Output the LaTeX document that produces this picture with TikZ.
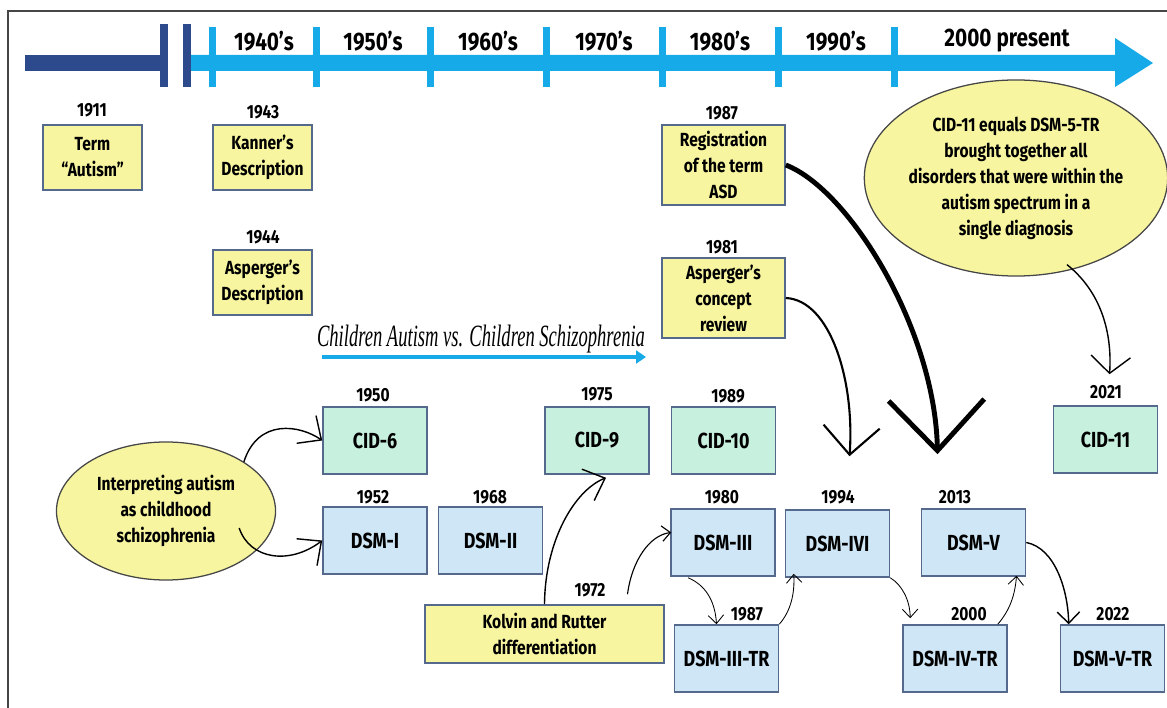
\documentclass[tikz,border=0pt]{standalone}
\usepackage{fontspec}
\setmainfont{Fira Sans}[FakeStretch=0.82]
\newfontfamily\handfont{Liberation Serif}[FakeStretch=0.6]
\usetikzlibrary{shapes.geometric,arrows.meta,calc}
\definecolor{barlight}{RGB}{22,170,232}
\definecolor{bardark}{RGB}{45,75,140}
\definecolor{noteyellow}{RGB}{247,245,160}
\definecolor{cidgreen}{RGB}{200,240,222}
\definecolor{dsmblue}{RGB}{206,230,245}
\definecolor{edgeblue}{RGB}{85,105,140}
\definecolor{framegray}{RGB}{70,70,70}
\tikzset{
	txt/.style={font=\fontsize{13.5}{18.5}\selectfont\bfseries, align=center, inner sep=0pt},
	yearlab/.style={txt},
	decade/.style={font=\fontsize{18}{20}\selectfont\bfseries, inner sep=0pt},
	note/.style={txt, draw=edgeblue, line width=1.1pt, fill=noteyellow, minimum width=2.475cm, minimum height=1.625cm},
	bignote/.style={note, minimum width=3.075cm, minimum height=2cm},
	cidbox/.style={txt, font=\fontsize{15.5}{18}\selectfont\bfseries, draw=edgeblue, line width=1.1pt, fill=cidgreen, minimum width=2.6cm, minimum height=1.675cm},
	dsmbox/.style={cidbox, fill=dsmblue},
	bubble/.style={txt, ellipse, draw=framegray, line width=0.9pt, fill=noteyellow},
	link/.style={line width=0.6pt, -{Straight Barb[length=6pt,width=11pt]}},
	swoop/.style={line width=1pt, -{Straight Barb[length=13pt,width=24pt]}},
}
\begin{document}
\begin{tikzpicture}[x=0.025cm, y=-0.025cm]
	\useasboundingbox (0,0) rectangle (1167,708);
	\draw[framegray, line width=1pt] (8,708) -- (8,11) -- (1167,11);
	% timeline
	\draw[bardark, line width=11pt] (25,63) -- (164,63);
	\foreach \x in {164,187}
		\draw[bardark, line width=5.5pt] (\x,24) -- (\x,87);
	\fill[barlight] (191,55) -- (1115,55) -- (1115,38) -- (1153,63) -- (1115,87) -- (1115,71) -- (191,71) -- cycle;
	\foreach \x in {212,316,430,546,662,778,894}
		\fill[barlight] (\x-3.5,27) rectangle (\x+3.5,87);
	\foreach \x/\t [count=\i] in {264/1940’s,373/1950’s,488/1960’s,604/1970’s,720/1980’s,836/1990’s,1007/2000 present}
		\node[decade] (dec\i) at (\x,41) {\t};

	% early descriptions
	\node[yearlab] (y1911) at (92,110) {1911};
	\node[note] (term) at (92.5,157.5) {Term\\“Autism”};
	\node[yearlab] (y1943) at (263,112) {1943};
	\node[note] (kanner) at (262.5,157.5) {Kanner’s\\Description};
	\node[yearlab] (y1944) at (263,237) {1944};
	\node[note] (asperger) at (262.5,282.5) {Asperger’s\\Description};
	\node[yearlab] (y1987a) at (722,113) {1987};
	\node[bignote] (regist) at (723.5,165) {Registration\\of the term\\ASD};
	\node[yearlab] (y1981) at (722,247) {1981};
	\node[bignote] (review) at (723.5,298) {Asperger’s\\concept\\review};
	\node[bubble, minimum width=7.4cm, minimum height=4.9cm] (equals) at (1016,178)
		{CID-11 equals DSM-5-TR\\brought together all\\disorders that were within the\\autism spectrum in a\\single diagnosis};

	% children autism vs schizophrenia
	\node[font=\handfont\itshape\fontsize{22}{23}\selectfont, inner sep=0pt] (versus) at (481,339) {Children Autism vs. Children Schizophrenia};
	\coordinate (vsa) at (322,357);
	\coordinate (vsb) at (646,357);
	\draw[barlight, line width=2.6pt, -{Triangle[length=7pt,width=9pt]}] (vsa) -- (vsb);

	% classifications
	\node[bubble, minimum width=5.475cm, minimum height=3.45cm] (interp) at (166,511)
		{Interpreting autism\\as childhood\\schizophrenia};
	\node[yearlab] (y1950) at (373,395) {1950};
	\node[cidbox] (cid6) at (375,440.5) {CID-6};
	\node[yearlab] (y1952) at (373,497) {1952};
	\node[dsmbox] (dsm1) at (375,540.5) {DSM-I};
	\node[yearlab] (y1968) at (490,497) {1968};
	\node[dsmbox] (dsm2) at (490.5,540.5) {DSM-II};
	\node[yearlab] (y1975) at (597,394) {1975};
	\node[cidbox] (cid9) at (597,440.5) {CID-9};
	\node[yearlab] (y1989) at (728,396) {1989};
	\node[cidbox] (cid10) at (723.5,440.5) {CID-10};
	\node[yearlab] (y2021) at (1106,392) {2021};
	\node[cidbox] (cid11) at (1105.5,439.5) {CID-11};
	\node[yearlab] (y1980) at (722,497) {1980};
	\node[dsmbox] (dsm3) at (723,542.5) {DSM-III};
	\node[yearlab] (y1994) at (838,497) {1994};
	\node[dsmbox] (dsm4) at (837.5,543.5) {DSM-IVI};
	\node[yearlab] (y2013) at (955,497) {2013};
	\node[dsmbox] (dsm5) at (973.5,542.5) {DSM-V};
	\node[yearlab] (y1987b) at (747,614) {1987};
	\node[dsmbox] (dsm3tr) at (726.5,658.5) {DSM-III-TR};
	\node[yearlab] (y2000) at (969,614) {2000};
	\node[dsmbox] (dsm4tr) at (955,658.5) {DSM-IV-TR};
	\node[yearlab] (y2022) at (1113,614) {2022};
	\node[dsmbox] (dsm5tr) at (1112.5,658.5) {DSM-V-TR};
	\node[yearlab] (y1972) at (590,590) {1972};
	\node[note, minimum width=5.975cm, minimum height=1.45cm] (kolvin) at (544.5,634) {Kolvin and Rutter\\differentiation};

	% connectors
	\draw[swoop] (interp.north east) .. controls (258,418) and (300,425) .. (cid6.west);
	\draw[swoop] ($(interp.east)+(-37,17)$) .. controls (250,560) and (290,565) .. (dsm1.west);
	\draw[swoop] (kolvin.north) .. controls (545,540) and (575,490) .. ($(cid9.south)+(9,3)$);
	\draw[link, line width=0.8pt] ($(kolvin.north)+(83,-10)$) .. controls (632,560) and (650,535) .. ($(dsm3.west)+(1,-10)$);
	\draw[link] ($(dsm3.south west)+(18,1)$) .. controls (705,585) and (715,600) .. ($(dsm3tr.north)+(-10,0)$);
	\draw[link] (dsm3tr.north east) .. controls (790,612) and (795,595) .. ($(dsm4.south west)+(9,-4)$);
	\draw[link] (dsm4.south east) .. controls (902,585) and (910,600) .. ($(dsm4tr.north west)+(8,-6)$);
	\draw[link] ($(dsm4tr.north east)+(-10,0)$) .. controls (1010,610) and (1015,595) .. ($(dsm5.south)+(43,-1)$);
	\draw[link, line width=1pt, -{Straight Barb[length=8pt,width=16pt]}] (dsm5.east) .. controls (1055,548) and (1068,590) .. ($(dsm5tr.north west)+(9,0)$);
	\draw[swoop, line width=1.5pt, -{Straight Barb[length=20pt,width=40pt]}] (review.east) .. controls (830,300) and (855,380) .. ($(dsm4.north)+(12,-53)$);
	\draw[line width=3.5pt, -{Straight Barb[length=36pt,width=68pt]}] (regist.east) .. controls (850,190) and (935,330) .. ($(dsm5.north)+(-36,-54)$);
	\draw[swoop, -{Straight Barb[length=12pt,width=28pt]}] ($(equals.south)+(51,-12)$) .. controls (1105,295) and (1112,340) .. ($(cid11.north)+(4,-31)$);
\end{tikzpicture}
\end{document}
